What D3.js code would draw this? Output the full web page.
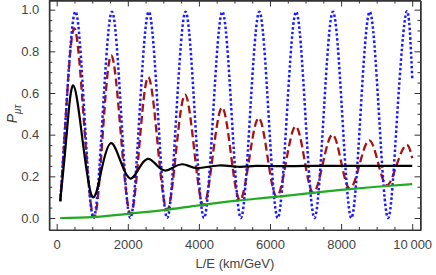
<!DOCTYPE html>
<html>
<head>
<meta charset="utf-8">
<script src="https://cdn.jsdelivr.net/npm/d3@7"></script>
<style>
  body { margin: 0; background: #fff; }
  svg { display: block; font-family: "Liberation Sans", Arial, sans-serif; }
  .axis path, .axis line { stroke: #333; }
  .axis text { fill: #444; font-size: 13px; font-family: "Liberation Sans", Arial, sans-serif; }
</style>
</head>
<body>
<svg id="chart" width="436" height="275"></svg>
<script>
// values (L/E in km/GeV, probability)
var blueX = [100, 260, 520, 778, 1037, 1295, 1555, 1813, 2072, 2330, 2590, 2849, 3108, 3366, 3625, 3883, 4143, 4400, 4660, 4920, 5180, 5440, 5700, 5958, 6217, 6475, 6735, 6993, 7252, 7510, 7770, 8030, 8288, 8546, 8805, 9064, 9323, 9580, 9840, 10000];
var blueY = [0.08, 0.5, 0.99, 0.5, 0, 0.5, 0.99, 0.5, 0, 0.5, 0.99, 0.5, 0, 0.5, 0.99, 0.5, 0, 0.5, 0.99, 0.5, 0, 0.5, 0.99, 0.5, 0, 0.5, 0.99, 0.5, 0, 0.5, 0.99, 0.5, 0, 0.5, 0.99, 0.5, 0, 0.5, 0.99, 0.67];

var redX = [100, 250, 490, 768, 1045, 1290, 1535, 1805, 2075, 2325, 2575, 2838, 3100, 3355, 3610, 3868, 4125, 4388, 4650, 4900, 5150, 5415, 5680, 5933, 6185, 6453, 6720, 6968, 7215, 7485, 7755, 8000, 8245, 8518, 8790, 9040, 9290, 9560, 9830, 10000];
var redY = [0.08, 0.47, 0.91, 0.457, 0.003, 0.39, 0.78, 0.40, 0.018, 0.347, 0.676, 0.357, 0.038, 0.315, 0.592, 0.327, 0.061, 0.296, 0.53, 0.308, 0.085, 0.283, 0.48, 0.291, 0.102, 0.271, 0.44, 0.281, 0.121, 0.261, 0.40, 0.27, 0.141, 0.257, 0.373, 0.265, 0.157, 0.254, 0.351, 0.287];

var blackX = [100, 280, 468, 730, 1000, 1260, 1518, 1790, 2062, 2310, 2560, 2800, 3046, 3280, 3516, 3730, 4000, 4560, 5100, 5600, 6200, 7000, 8000, 9000, 10000];
var blackY = [0.082, 0.40, 0.636, 0.37, 0.102, 0.23, 0.359, 0.275, 0.19, 0.237, 0.284, 0.256, 0.228, 0.243, 0.258, 0.249, 0.24, 0.252, 0.246, 0.25, 0.249, 0.25, 0.25, 0.25, 0.25];

var greenX = [100, 1000, 2000, 3000, 4000, 5000, 6000, 7000, 8000, 9000, 10000];
var greenY = [0, 0.004, 0.02, 0.038, 0.061, 0.082, 0.099, 0.117, 0.135, 0.15, 0.163];

var xTicks = [0, 2000, 4000, 6000, 8000, 10000];
var xLabels = ["0", "2000", "4000", "6000", "8000", "10\u2009000"];
var yTicks = [0, 0.2, 0.4, 0.6, 0.8, 1.0];
var yLabels = ["0.0", "0.2", "0.4", "0.6", "0.8", "1.0"];

var svg = d3.select("#chart");

// frame box
var frameL = 49.3, frameR = 420.5, frameT = 0.5, frameB = 230;
var xScale = d3.scaleLinear().domain([-208, 10233]).range([frameL, frameR]);
var yScale = d3.scaleLinear().domain([-0.0576, 1.044]).range([frameB, frameT]);

var xMinor = d3.range(0, 10001, 500).filter(function (v) { return v % 2000 != 0; });
var yMinor = d3.range(0, 21).map(function (i) { return i * 0.05; }).filter(function (v, i) { return i % 4 != 0; });

function makeSeries(xs, ys) {
    return xs.map(function (x, i) { return { x: x, y: ys[i] }; });
}

var plot = svg.append("g");

function drawLine(xs, ys, color, dash, width, curve) {
    var line = d3.line()
        .curve(curve)
        .x(function (d) { return xScale(d.x); })
        .y(function (d) { return yScale(d.y); });
    plot.append("path")
        .attr("d", line(makeSeries(xs, ys)))
        .attr("fill", "none")
        .attr("stroke", color)
        .attr("stroke-width", width)
        .attr("stroke-dasharray", dash);
}

drawLine(redX, redY, "#aa1111", "8,4", 2.3, d3.curveNatural);
drawLine(blueX, blueY, "#1a1aff", "2.5,2.3", 2.5, d3.curveNatural);
drawLine(greenX, greenY, "#22aa22", null, 2.2, d3.curveMonotoneX);
drawLine(blackX, blackY, "#000", null, 2.2, d3.curveNatural);

// axes (ticks point inward, Mathematica frame style)
svg.append("g").attr("class", "axis")
    .attr("transform", "translate(0," + frameB + ")")
    .call(d3.axisBottom(xScale).tickValues(xTicks).tickSizeInner(-6).tickSizeOuter(0).tickPadding(10)
        .tickFormat(function (d, i) { return xLabels[i]; }));
svg.append("g").attr("class", "axis")
    .attr("transform", "translate(0," + frameB + ")")
    .call(d3.axisBottom(xScale).tickValues(xMinor).tickSizeInner(-3).tickSizeOuter(0).tickFormat(""));
svg.append("g").attr("class", "axis")
    .attr("transform", "translate(0," + frameT + ")")
    .call(d3.axisTop(xScale).tickValues(xTicks).tickSizeInner(-6).tickSizeOuter(0).tickFormat(""));
svg.append("g").attr("class", "axis")
    .attr("transform", "translate(0," + frameT + ")")
    .call(d3.axisTop(xScale).tickValues(xMinor).tickSizeInner(-3).tickSizeOuter(0).tickFormat(""));

svg.append("g").attr("class", "axis")
    .attr("transform", "translate(" + frameL + ",0)")
    .call(d3.axisLeft(yScale).tickValues(yTicks).tickSizeInner(-6).tickSizeOuter(0).tickPadding(10)
        .tickFormat(function (d, i) { return yLabels[i]; }));
svg.append("g").attr("class", "axis")
    .attr("transform", "translate(" + frameL + ",0)")
    .call(d3.axisLeft(yScale).tickValues(yMinor).tickSizeInner(-3).tickSizeOuter(0).tickFormat(""));
svg.append("g").attr("class", "axis")
    .attr("transform", "translate(" + frameR + ",0)")
    .call(d3.axisRight(yScale).tickValues(yTicks).tickSizeInner(-6).tickSizeOuter(0).tickFormat(""));
svg.append("g").attr("class", "axis")
    .attr("transform", "translate(" + frameR + ",0)")
    .call(d3.axisRight(yScale).tickValues(yMinor).tickSizeInner(-3).tickSizeOuter(0).tickFormat(""));

// full frame
svg.append("rect")
    .attr("x", frameL).attr("y", frameT)
    .attr("width", frameR - frameL).attr("height", frameB - frameT)
    .attr("fill", "none").attr("stroke", "#333").attr("stroke-width", 1);

// axis labels
svg.append("text")
    .attr("x", (frameL + frameR) / 2).attr("y", 268)
    .attr("text-anchor", "middle")
    .attr("fill", "#444").attr("font-size", 13)
    .text("L/E (km/GeV)");

var ylab = svg.append("text")
    .attr("transform", "translate(17,114) rotate(-90)")
    .attr("text-anchor", "middle")
    .attr("fill", "#444").attr("font-size", 14);
ylab.append("tspan").attr("font-style", "italic").text("P");
ylab.append("tspan").attr("font-size", 10).attr("dy", 4).attr("font-style", "italic").text("\u03bc\u03c4");
</script>
</body>
</html>
